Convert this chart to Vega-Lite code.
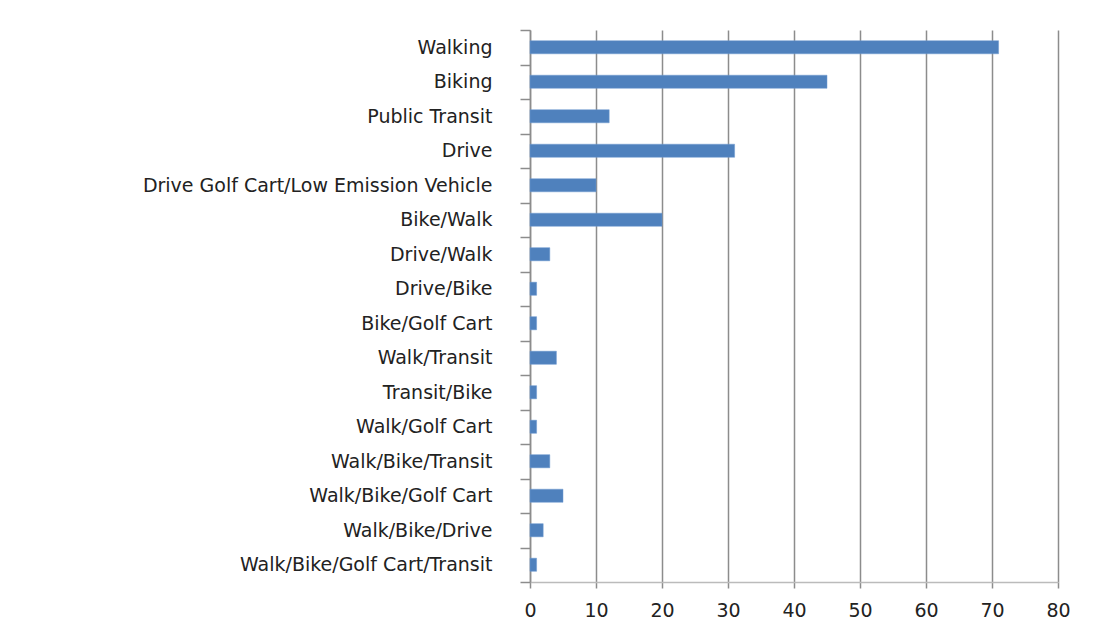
{
  "$schema": "https://vega.github.io/schema/vega-lite/v6.json",
  "autosize": "none",
  "width": 528,
  "height": 552,
  "padding": {"left": 530, "top": 30, "right": 40, "bottom": 53},
  "background": "white",
  "data": {
    "values": [
      {"mode": "Walking", "count": 71},
      {"mode": "Biking", "count": 45},
      {"mode": "Public Transit", "count": 12},
      {"mode": "Drive", "count": 31},
      {"mode": "Drive Golf Cart/Low Emission Vehicle", "count": 10},
      {"mode": "Bike/Walk", "count": 20},
      {"mode": "Drive/Walk", "count": 3},
      {"mode": "Drive/Bike", "count": 1},
      {"mode": "Bike/Golf Cart", "count": 1},
      {"mode": "Walk/Transit", "count": 4},
      {"mode": "Transit/Bike", "count": 1},
      {"mode": "Walk/Golf Cart", "count": 1},
      {"mode": "Walk/Bike/Transit", "count": 3},
      {"mode": "Walk/Bike/Golf Cart", "count": 5},
      {"mode": "Walk/Bike/Drive", "count": 2},
      {"mode": "Walk/Bike/Golf Cart/Transit", "count": 1}
    ]
  },
  "mark": {"type": "bar", "color": "#4F81BD", "stroke": "#6E9AD0", "strokeWidth": 0.5, "height": {"band": 0.38}},
  "encoding": {
    "y": {
      "field": "mode",
      "type": "nominal",
      "sort": null,
      "scale": {"paddingInner": 0, "paddingOuter": 0},
      "axis": {
        "title": null,
        "tickBand": "extent",
        "tickSize": 10,
        "tickColor": "#8C8C8C",
        "tickWidth": 1.5,
        "domainColor": "#8C8C8C",
        "domainWidth": 1.5,
        "labelPadding": 28,
        "labelFont": "DejaVu Sans",
        "labelFontSize": 19,
        "labelColor": "#222222",
        "labelLimit": 520,
        "grid": false
      }
    },
    "x": {
      "field": "count",
      "type": "quantitative",
      "scale": {"domain": [0, 80], "nice": false},
      "axis": {
        "title": null,
        "values": [0, 10, 20, 30, 40, 50, 60, 70, 80],
        "grid": true,
        "gridColor": "#8C8C8C",
        "gridWidth": 1.5,
        "gridOpacity": 1,
        "tickSize": 6,
        "tickColor": "#8C8C8C",
        "tickWidth": 1.5,
        "domainColor": "#BBBBBB",
        "domainWidth": 1.5,
        "labelPadding": 13,
        "labelFont": "DejaVu Sans",
        "labelFontSize": 19,
        "labelColor": "#222222",
        "labelFlush": false
      }
    }
  },
  "config": {"view": {"stroke": null}}
}
